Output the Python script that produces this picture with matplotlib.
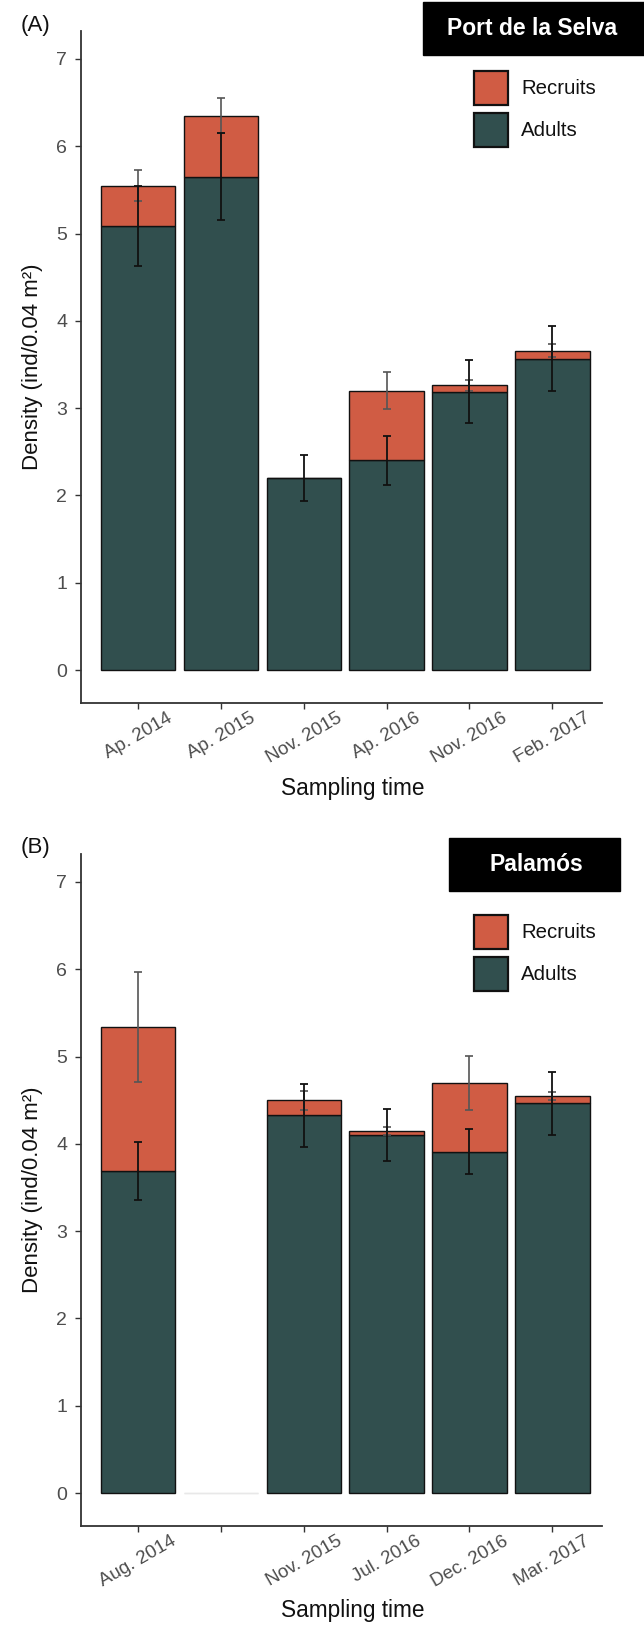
import numpy as np
import matplotlib
matplotlib.use("Agg")
import matplotlib.pyplot as plt
from matplotlib.patches import Rectangle
import matplotlib.transforms as mtransforms

plt.rcParams['font.family'] = ['Liberation Sans', 'DejaVu Sans']

# ---------------- data ----------------
labels_a = ["Ap. 2014", "Ap. 2015", "Nov. 2015", "Ap. 2016", "Nov. 2016", "Feb. 2017"]
adults_a = [5.09, 5.65, 2.20, 2.40, 3.19, 3.565]
total_a = [5.55, 6.35, 2.20, 3.20, 3.26, 3.66]
adult_err_a = [0.46, 0.50, 0.26, 0.28, 0.36, 0.37]
recruit_err_a = [0.18, 0.20, np.nan, 0.21, 0.06, 0.07]

labels_b = ["Aug. 2014", "", "Nov. 2015", "Jul. 2016", "Dec. 2016", "Mar. 2017"]
adults_b = [3.69, 0.0, 4.325, 4.104, 3.91, 4.466]
total_b = [5.34, 0.0, 4.497, 4.146, 4.70, 4.55]
adult_err_b = [0.33, np.nan, 0.356, 0.30, 0.26, 0.36]
recruit_err_b = [0.63, np.nan, 0.105, 0.045, 0.31, 0.045]

site_a = "Port de la Selva"
site_b = "Palamós"
legend_labels = ["Recruits", "Adults"]

C_REC = '#d05c44'
C_AD = '#314f4e'
W, H = 644, 1629
AX_L, AX_R, AX_H = 81, 602, 672

fig = plt.figure(figsize=(W / 100, H / 100), dpi=100)


def fx(px):
    return px / W


def fy(py):
    return 1 - py / H


def panel(top_px, labels, adults, total, aerr, rerr, tag, site, box, text_cx, leg_top):
    ax = fig.add_axes([fx(AX_L), fy(top_px + AX_H), fx(AX_R) - fx(AX_L), AX_H / H])
    x = np.arange(len(labels))
    adults = np.array(adults, float)
    total = np.array(total, float)
    rec = total - adults
    edges = ['#111111' if t > 0 else '#e8e8e8' for t in total]
    ax.bar(x, adults, width=0.9, color=C_AD, edgecolor=edges, linewidth=1.0, zorder=2)
    ax.bar(x, rec, bottom=adults, width=0.9, color=C_REC, edgecolor=edges, linewidth=1.0, zorder=2)
    ax.errorbar(x, total, yerr=rerr, fmt='none', ecolor='#555555', elinewidth=1.2,
                capsize=3, capthick=1.2, zorder=3)
    ax.errorbar(x, adults, yerr=aerr, fmt='none', ecolor='#111111', elinewidth=1.3,
                capsize=3, capthick=1.3, zorder=4)
    ax.set_xlim(-0.69, 5.6)
    ax.set_ylim(-0.378, 7.32)
    ax.set_yticks(range(8))
    ax.set_xticks(x)
    ax.set_xticklabels(labels, rotation=30, ha='center', rotation_mode='default')
    offset = mtransforms.ScaledTranslation(-0.13, 0.0, fig.dpi_scale_trans)
    for lab in ax.get_xticklabels():
        lab.set_transform(lab.get_transform() + offset)
    for s in ['top', 'right']:
        ax.spines[s].set_visible(False)
    for s in ['left', 'bottom']:
        ax.spines[s].set_color('#333333')
        ax.spines[s].set_linewidth(1.3)
    ax.tick_params(axis='y', labelsize=14, labelcolor='#4d4d4d', color='#333333',
                   length=4, width=1.0, pad=6)
    ax.tick_params(axis='x', labelsize=13.5, labelcolor='#4d4d4d', color='#333333',
                   length=4, width=1.0, pad=1)
    ax.set_ylabel("Density (ind/0.04 m²)", fontsize=16, color='#111111')
    ax.set_xlabel("Sampling time", fontsize=16.3, color='#111111')
    ax.xaxis.set_label_coords((353 - AX_L) / (AX_R - AX_L), -85 / AX_H)
    ax.xaxis.label.set_va('center')
    ax.yaxis.set_label_coords((33 - AX_L) / (AX_R - AX_L), 0.5)
    ax.yaxis.label.set_va('center')
    ax.set_facecolor('white')

    fig.text(fx(21), fy(top_px - 6), tag, fontsize=16, ha='left', va='center', color='#111111')

    bx0, by0, bx1, by1 = box
    fig.patches.append(Rectangle((fx(bx0), fy(by1)), fx(bx1) - fx(bx0), (by1 - by0) / H,
                                 transform=fig.transFigure, facecolor='black',
                                 edgecolor='black', zorder=5))
    fig.text(fx(text_cx), fy((by0 + by1) / 2), site, fontsize=16.5, fontweight='bold',
             color='white', ha='center', va='center', zorder=6)

    # legend keys
    for i, (lab, col) in enumerate(zip(legend_labels, [C_REC, C_AD])):
        t0 = leg_top + i * 42
        fig.patches.append(Rectangle((fx(474), fy(t0 + 34)), fx(34), 34 / H,
                                     transform=fig.transFigure, facecolor=col,
                                     edgecolor='#111111', linewidth=1.6, zorder=5))
        fig.text(fx(521), fy(t0 + 17), lab, fontsize=14.7, color='#111111',
                 ha='left', va='center', zorder=6)
    return ax


panel(31, labels_a, adults_a, total_a, adult_err_a, recruit_err_a, "(A)", site_a,
      (423, 2, 644, 55), 532, 71)
panel(854, labels_b, adults_b, total_b, adult_err_b, recruit_err_b, "(B)", site_b,
      (449, 838, 620, 891), 536, 915)

fig.savefig("out.png", dpi=100, facecolor='white')
